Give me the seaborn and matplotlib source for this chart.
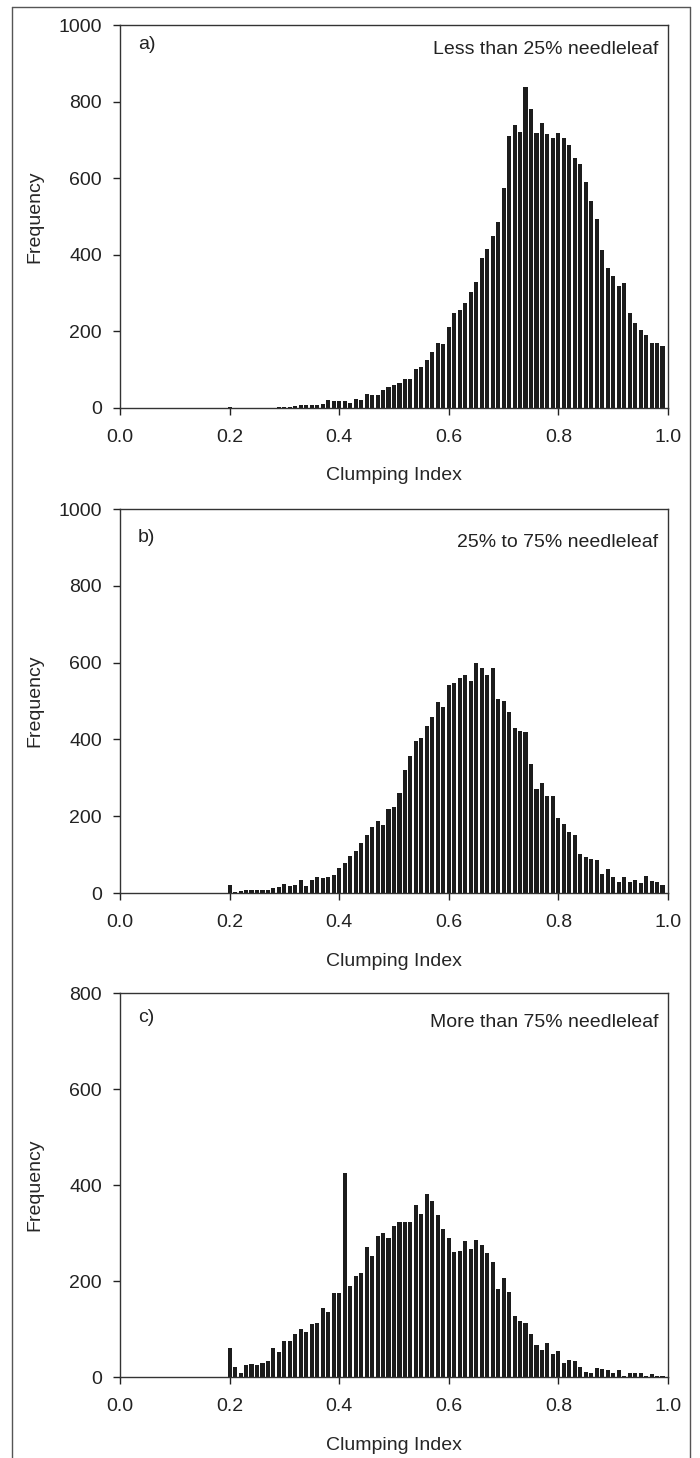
import numpy as np
import pandas as pd
import seaborn as sns
import matplotlib.pyplot as plt
from matplotlib.lines import Line2D

# clumping index bins (0.20 .. 0.99, step 0.01)
clumping = [round(0.20 + 0.01 * i, 2) for i in range(80)]

freq_less25 = [2, 0, 0, 0, 0, 0, 0, 0, 1, 3,
               2, 3, 4, 7, 7, 7, 7, 10, 20, 17,
               17, 17, 14, 23, 21, 37, 33, 34, 48, 54,
               61, 66, 76, 76, 101, 108, 126, 147, 171, 166,
               212, 249, 257, 275, 304, 328, 392, 414, 448, 485,
               574, 710, 738, 721, 839, 780, 719, 745, 715, 704,
               717, 704, 686, 652, 636, 589, 540, 493, 413, 365,
               345, 319, 326, 249, 222, 204, 190, 171, 170, 162]

freq_25to75 = [20, 3, 6, 8, 8, 8, 9, 8, 14, 16,
               23, 19, 20, 33, 18, 35, 41, 38, 41, 48,
               66, 78, 96, 110, 129, 150, 171, 188, 176, 219,
               223, 261, 321, 356, 395, 404, 434, 459, 498, 484,
               542, 546, 559, 568, 553, 598, 585, 569, 585, 506,
               500, 472, 429, 421, 419, 337, 271, 286, 252, 253,
               195, 180, 160, 152, 102, 94, 88, 85, 50, 62,
               42, 29, 41, 29, 35, 27, 45, 30, 29, 22]

freq_more75 = [60, 20, 9, 26, 28, 24, 29, 33, 60, 52,
               74, 76, 90, 99, 94, 111, 113, 143, 135, 176,
               175, 424, 189, 210, 216, 270, 253, 294, 299, 289,
               314, 322, 322, 322, 358, 339, 381, 366, 338, 308,
               289, 260, 262, 284, 267, 285, 274, 259, 239, 183,
               207, 177, 128, 116, 113, 90, 66, 56, 71, 47,
               54, 29, 35, 33, 21, 10, 8, 19, 17, 14,
               9, 14, 3, 9, 9, 8, 3, 7, 3, 2]

panel_tags = ["a)", "b)", "c)"]
panel_titles = ["Less than 25% needleleaf", "25% to 75% needleleaf",
                "More than 75% needleleaf"]
panel_data = [freq_less25, freq_25to75, freq_more75]
panel_ymax = [1000, 1000, 800]

sns.set_style("white")
plt.rcParams['font.family'] = ['Liberation Sans', 'DejaVu Sans']
plt.rcParams['text.color'] = '#222222'

W, H = 700, 1458
fig = plt.figure(figsize=(W / 100, H / 100), dpi=100)

# axes boxes in pixels: left, top, right, bottom
boxes = [(120, 25, 668, 408), (120, 509, 668, 893), (120, 993, 668, 1377)]
tag_y = [0.95, 0.927, 0.937]
title_y = [0.935, 0.914, 0.924]
fs = 14

for i, (tag, title, freq, ymax, (l, t, r, b)) in enumerate(
        zip(panel_tags, panel_titles, panel_data, panel_ymax, boxes)):
    ax = fig.add_axes([l / W, 1 - b / H, (r - l) / W, (b - t) / H])
    df = pd.DataFrame({"ci": clumping, "n": freq})
    sns.histplot(data=df, x="ci", weights="n", binwidth=0.01,
                 binrange=(0.195, 0.995), shrink=0.74,
                 color='#1c1c1c', alpha=1, linewidth=0, ax=ax)
    ax.set_xlim(0, 1)
    ax.set_ylim(0, ymax)
    ax.set_xticks(np.arange(0, 1.01, 0.2))
    ax.set_xticklabels(["%.1f" % v for v in np.arange(0, 1.01, 0.2)])
    ax.set_yticks(np.arange(0, ymax + 1, 200))
    ax.tick_params(axis='x', direction='out', length=5, width=1,
                   pad=10, labelsize=fs, colors='#222222')
    ax.tick_params(axis='y', direction='out', length=5, width=1,
                   pad=8, labelsize=fs, colors='#222222')
    ax.tick_params(bottom=True, left=True)
    for s in ax.spines.values():
        s.set_color('#333333')
        s.set_linewidth(1)
    ax.set_xlabel("Clumping Index", fontsize=fs)
    ax.set_ylabel("Frequency", fontsize=fs)
    ax.xaxis.set_label_coords(0.5, -0.155)
    ax.yaxis.set_label_coords(-0.14, 0.5)
    ax.text(0.033, tag_y[i], tag, transform=ax.transAxes, fontsize=fs,
            ha='left', va='center')
    ax.text(0.982, title_y[i], title, transform=ax.transAxes, fontsize=fs,
            ha='right', va='center')

# outer frame
fc = '#555555'
fig.add_artist(Line2D([12 / W, 12 / W], [0, 1 - 7 / H], color=fc, lw=1))
fig.add_artist(Line2D([12 / W, 690 / W], [1 - 7 / H, 1 - 7 / H], color=fc, lw=1))
fig.add_artist(Line2D([690 / W, 690 / W], [0, 1 - 7 / H], color=fc, lw=1))

fig.savefig("out.png", dpi=100)
